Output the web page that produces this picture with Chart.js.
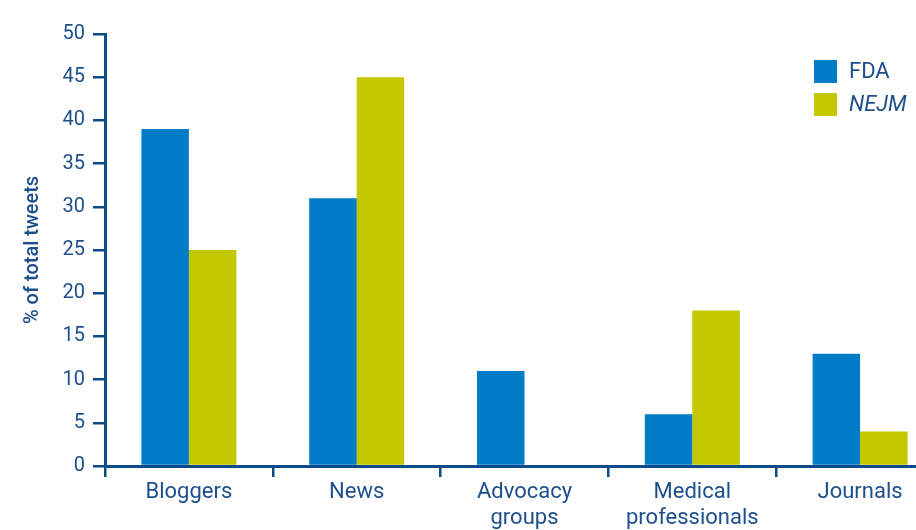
<!DOCTYPE html>
<html>
<head>
<meta charset="utf-8">
<script src="https://cdn.jsdelivr.net/npm/chart.js@4/dist/chart.umd.min.js"></script>
<style>
    html, body { margin: 0; padding: 0; background: #fff; overflow: hidden; }
    #wrap { position: absolute; left: 0; top: 0; width: 950px; height: 530px; }
</style>
</head>
<body>
<div id="wrap"><canvas id="tweetsChart" width="950" height="530"></canvas></div>
<script>
// Share of tweets per source type
const categories = [['Bloggers'], ['News'], ['Advocacy', 'groups'], ['Medical', 'professionals'], ['Journals']];
const seriesNames = ['FDA', 'NEJM'];
const fdaValues = [39, 31, 11, 6, 13];
const nejmValues = [25, 45, 0, 18, 4];
const yTicks = [0, 5, 10, 15, 20, 25, 30, 35, 40, 45, 50];

const seriesColors = ['#007dc6', '#c3c800'];
const italicSeries = [false, true];
const axisColor = '#0d4a89';
const textColor = '#1d4f8c';

// Legend drawn by hand so one entry can be set in italics
const squareLegend = {
    id: 'squareLegend',
    afterDraw(chart) {
        const ctx = chart.ctx;
        ctx.save();
        ctx.textBaseline = 'middle';
        chart.data.datasets.forEach((ds, i) => {
            const y = 60 + i * 33;
            ctx.fillStyle = ds.backgroundColor;
            ctx.fillRect(814, y, 23, 23);
            ctx.fillStyle = textColor;
            ctx.font = (italicSeries[i] ? 'italic ' : '') + '22px Roboto';
            ctx.fillText(ds.label, 849, y + 12);
        });
        ctx.restore();
    }
};

new Chart(document.getElementById('tweetsChart').getContext('2d'), {
    type: 'bar',
    data: {
        labels: categories,
        datasets: [
            { label: seriesNames[0], data: fdaValues, backgroundColor: seriesColors[0] },
            { label: seriesNames[1], data: nejmValues, backgroundColor: seriesColors[1] }
        ]
    },
    options: {
        responsive: false,
        animation: false,
        layout: { padding: { left: 21, right: 6, top: 34, bottom: 0 } },
        datasets: {
            bar: { categoryPercentage: 0.566, barPercentage: 1.0 }
        },
        plugins: {
            legend: { display: false },
            tooltip: { enabled: false }
        },
        scales: {
            x: {
                grid: {
                    offset: true,
                    drawOnChartArea: false,
                    color: axisColor,
                    lineWidth: 2.5,
                    tickLength: 11
                },
                border: { color: axisColor, width: 3 },
                ticks: {
                    color: textColor,
                    font: { family: 'Roboto', size: 22, lineHeight: 1.2 },
                    padding: 2,
                    maxRotation: 0,
                    autoSkip: false
                },
                afterFit(scale) { scale.height = 64; }
            },
            y: {
                min: 0,
                max: 50,
                afterBuildTicks(scale) { scale.ticks = yTicks.map(v => ({ value: v })); },
                grid: {
                    drawOnChartArea: false,
                    color: axisColor,
                    lineWidth: 2.5,
                    tickLength: 12
                },
                border: { color: axisColor, width: 3 },
                ticks: {
                    color: textColor,
                    font: { family: 'Roboto', size: 20 },
                    padding: 8
                },
                title: {
                    display: true,
                    text: '% of total tweets',
                    color: textColor,
                    font: { family: 'Roboto', size: 20, weight: '500' },
                    padding: { top: 0, bottom: 0 }
                },
                afterFit(scale) { scale.width = 84; }
            }
        }
    },
    plugins: [squareLegend]
});
</script>
</body>
</html>
